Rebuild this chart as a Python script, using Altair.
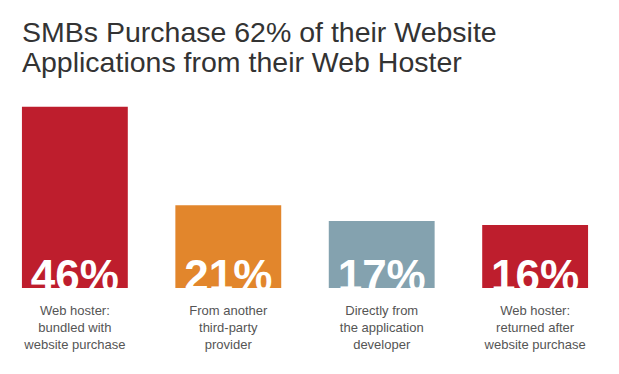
import altair as alt
import pandas as pd

categories = [
    "Web hoster:|bundled with|website purchase",
    "From another|third-party|provider",
    "Directly from|the application|developer",
    "Web hoster:|returned after|website purchase",
]
values = [46, 21, 17, 16]
colors = ["#BE1E2D", "#E2862C", "#84A2AF", "#BE1E2D"]
title_lines = ["SMBs Purchase 62% of their Website", "Applications from their Web Hoster"]

df = pd.DataFrame({
    "cat": categories,
    "value": values,
    "label": [f"{v}%" for v in values],
    "base": [0] * len(values),
})

FONT = "Liberation Sans"

x = alt.X(
    "cat:N",
    sort=categories,
    scale=alt.Scale(paddingInner=0.31, paddingOuter=0.143),
    axis=alt.Axis(
        title=None,
        domain=False,
        ticks=False,
        labelAngle=0,
        labelExpr="split(datum.label, '|')",
        labelFont=FONT,
        labelFontSize=13,
        labelColor="#555555",
        labelLineHeight=17,
        labelPadding=16,
        labelBaseline="top",
    ),
)

yscale = alt.Scale(domain=[0, 50])

bars = alt.Chart(df).mark_bar().encode(
    x=x,
    y=alt.Y("value:Q", scale=yscale, axis=None),
    color=alt.Color("cat:N", scale=alt.Scale(domain=categories, range=colors), legend=None),
)

texts = alt.Chart(df).mark_text(
    clip=True,
    font=FONT,
    fontSize=44,
    fontWeight="bold",
    color="white",
    baseline="alphabetic",
    align="center",
    dy=3,
).encode(
    x=alt.X("cat:N", sort=categories),
    y=alt.Y("base:Q", scale=yscale),
    text="label:N",
)

chart = alt.layer(bars, texts).properties(
    width=610,
    height=197,
    autosize=alt.AutoSizeParams(type="none"),
    padding={"left": 0, "top": 91, "right": 9, "bottom": 86},
    background="white",
    title=alt.TitleParams(
        text=title_lines,
        anchor="start",
        frame="group",
        dx=22,
        offset=-9,
        font=FONT,
        fontSize=28.5,
        fontWeight="normal",
        color="#333333",
        lineHeight=30,
        baseline="alphabetic",
    ),
).configure_view(strokeWidth=0)

chart.save("out.html", embed_options={"renderer": "svg", "actions": False})
